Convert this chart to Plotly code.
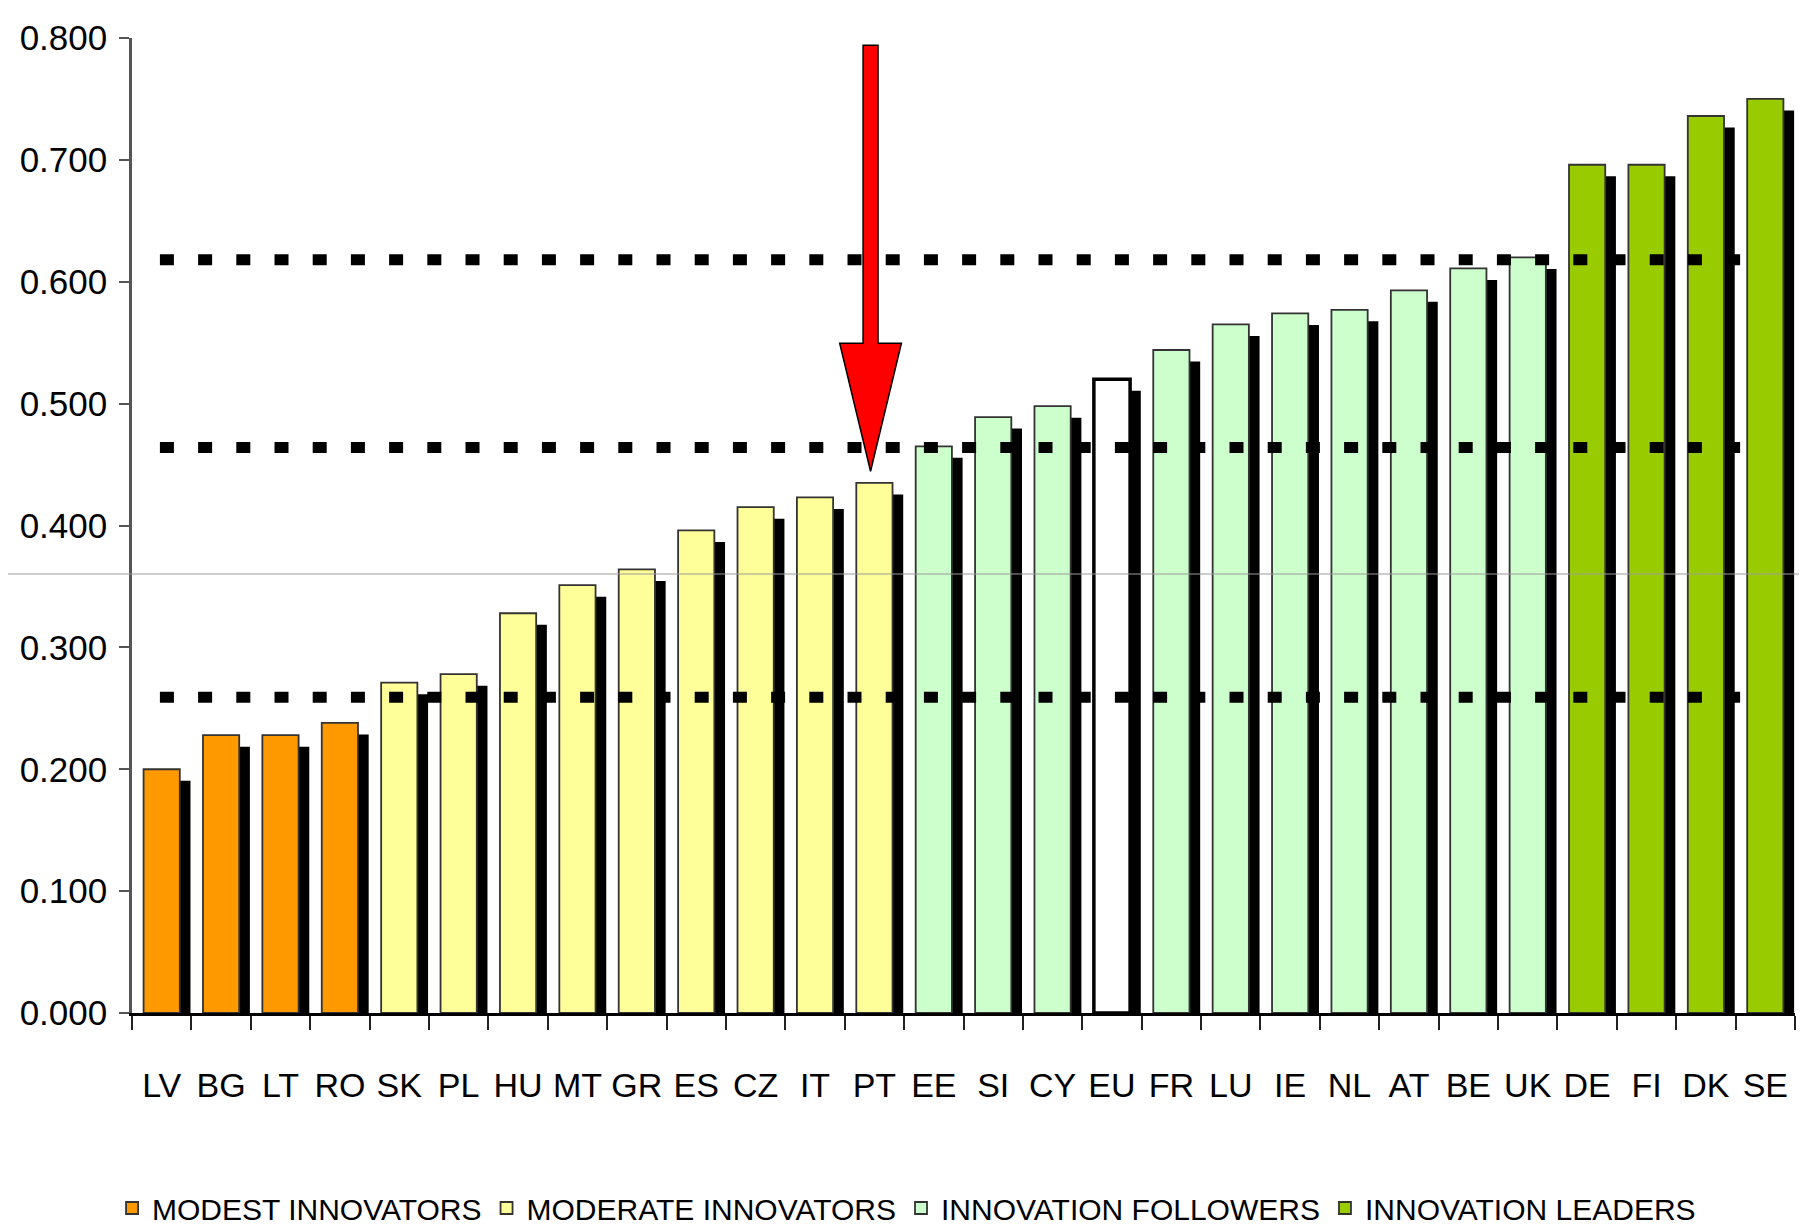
import plotly.graph_objects as go

# ---------------- data ----------------
countries = ["LV", "BG", "LT", "RO", "SK", "PL", "HU", "MT", "GR", "ES", "CZ", "IT", "PT",
             "EE", "SI", "CY", "EU", "FR", "LU", "IE", "NL", "AT", "BE", "UK",
             "DE", "FI", "DK", "SE"]
scores = [0.200, 0.228, 0.228, 0.238, 0.271, 0.278, 0.328, 0.351, 0.364, 0.396, 0.415, 0.423, 0.435,
          0.465, 0.489, 0.498, 0.520, 0.544, 0.565, 0.574, 0.577, 0.593, 0.611, 0.620,
          0.696, 0.696, 0.736, 0.750]
groups = ["MODEST INNOVATORS"] * 4 + ["MODERATE INNOVATORS"] * 9 + \
         ["INNOVATION FOLLOWERS"] * 3 + ["EU"] + ["INNOVATION FOLLOWERS"] * 7 + \
         ["INNOVATION LEADERS"] * 4
group_names = ["MODEST INNOVATORS", "MODERATE INNOVATORS", "INNOVATION FOLLOWERS", "INNOVATION LEADERS"]
thresholds = [0.259, 0.464, 0.618]
highlight = "PT"
y_ticks = [0.0, 0.1, 0.2, 0.3, 0.4, 0.5, 0.6, 0.7, 0.8]

# ---------------- style ----------------
group_colors = {
    "MODEST INNOVATORS": "#FF9900",
    "MODERATE INNOVATORS": "#FFFF99",
    "INNOVATION FOLLOWERS": "#CCFFCC",
    "INNOVATION LEADERS": "#99CC00",
}
FONT = "Liberation Sans, Arial, sans-serif"
BAR_W = 0.61
SHADOW_DX = 0.18
SHADOW_DY = 0.0095

idx = list(range(len(countries)))

fig = go.Figure()

# shadows
fig.add_trace(go.Bar(
    x=idx, y=[v - SHADOW_DY for v in scores],
    width=BAR_W, offset=-BAR_W / 2 + SHADOW_DX,
    marker=dict(color="#000000", line=dict(width=0)),
    showlegend=False, hoverinfo="skip",
))

# main bars per group
for g in group_names:
    xs = [i for i in idx if groups[i] == g]
    ys = [scores[i] for i in xs]
    fig.add_trace(go.Bar(
        x=xs, y=ys, name=g, width=BAR_W, offset=-BAR_W / 2,
        marker=dict(color=group_colors[g], line=dict(color="#333333", width=1.8)),
    ))

# EU bar
xs = [i for i in idx if groups[i] == "EU"]
fig.add_trace(go.Bar(
    x=xs, y=[scores[i] for i in xs], name="EU", width=BAR_W, offset=-BAR_W / 2,
    marker=dict(color="#FFFFFF", line=dict(color="#000000", width=3.5)),
    showlegend=False,
))

shapes = []
# thin grey scan line across the whole picture
shapes.append(dict(type="line", xref="paper", yref="paper", x0=-0.09, x1=1.02,
                   y0=0.3602 / 0.8, y1=0.3602 / 0.8,
                   line=dict(color="#9a9a9a", width=1), layer="above"))
# dotted threshold lines
for t in thresholds:
    shapes.append(dict(type="line", xref="x", yref="y", x0=-0.03, x1=26.63, y0=t, y1=t,
                       line=dict(color="#000000", width=11, dash="14px,24.2px"), layer="above"))

# red arrow pointing at highlighted country
hx = countries.index(highlight) - 0.065
hv = scores[countries.index(highlight)]
tip = hv + 0.0095
base = hv + 0.1145
top = 0.794
sw, hw = 0.126, 0.52
path = (f"M {hx - sw} {top} L {hx + sw} {top} L {hx + sw} {base} L {hx + hw} {base} "
        f"L {hx} {tip} L {hx - hw} {base} L {hx - sw} {base} Z")
shapes.append(dict(type="path", xref="x", yref="y", path=path,
                   fillcolor="#FF0000", line=dict(color="#000000", width=1.5), layer="above"))

fig.update_layout(
    width=1807, height=1231,
    margin=dict(l=124, r=20, t=30, b=226, autoexpand=False),
    paper_bgcolor="#FFFFFF", plot_bgcolor="#FFFFFF",
    barmode="overlay",
    font=dict(family=FONT, color="#000000"),
    shapes=shapes,
    showlegend=True,
    legend=dict(orientation="h", x=-0.012, xanchor="left", y=-0.200, yanchor="middle",
                font=dict(family=FONT, size=30, color="#000000"),
                traceorder="normal", itemclick=False, bgcolor="rgba(0,0,0,0)"),
    xaxis=dict(
        range=[-0.5, len(countries) - 0.5], automargin=False,
        tickmode="array", tickvals=idx, ticktext=countries, ticks="", tickangle=0,
        tickfont=dict(family=FONT, size=34, color="#000000"),
        ticklabelstandoff=40,
        showline=True, linecolor="#000000", linewidth=3,
        showgrid=False, zeroline=False,
        minor=dict(tickmode="array", tickvals=[i - 0.5 for i in range(len(countries) + 1)],
                   ticks="outside", ticklen=14, tickwidth=2, tickcolor="#222222", showgrid=False),
    ),
    yaxis=dict(
        range=[0, 0.8], automargin=False, tickmode="array", tickvals=y_ticks, tickformat=".3f",
        ticks="outside", ticklen=10, tickwidth=2, tickcolor="#555555",
        tickfont=dict(family=FONT, size=35, color="#000000"),
        ticklabelstandoff=5,
        showline=True, linecolor="#555555", linewidth=2.5,
        showgrid=False, zeroline=False,
    ),
)

fig.write_html("out.html")
